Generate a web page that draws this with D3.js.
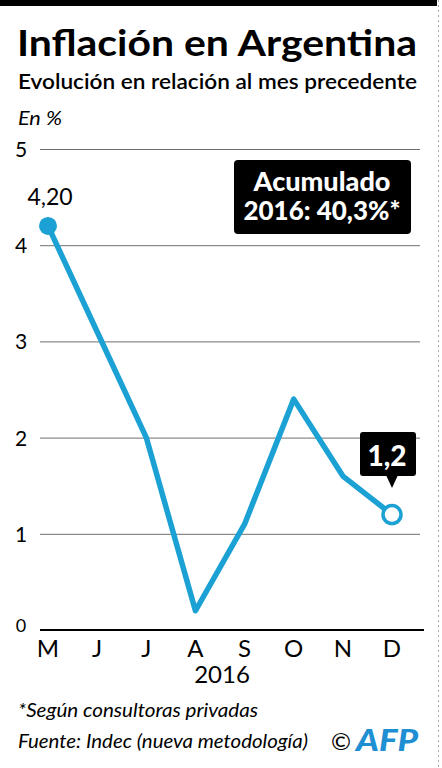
<!DOCTYPE html>
<html lang="es">
  <head>
    <meta charset="utf-8">
    <title>Inflación en Argentina</title>
    <script src="https://d3js.org/d3.v7.min.js"></script>
    <style>
      body { margin: 0; background: #fff; }
      svg text { font-family: Lato, "Open Sans", sans-serif; }
    </style>
  </head>
  <body>
    <div id="chart"></div>
    <script>
      var months = ["M", "J", "J2", "A", "S", "O", "N", "D"];
      var monthLabels = ["M", "J", "J", "A", "S", "O", "N", "D"];
      var inflation = [4.2, 3.1, 2.0, 0.2, 1.1, 2.4, 1.6, 1.2];
      var yTicks = [0, 1, 2, 3, 4, 5];

      var W = 442, H = 768;
      var blue = "#1ba1d3";

      var svg = d3.select("#chart").append("svg")
        .attr("width", W).attr("height", H);

      // top black band and dotted right edge
      svg.append("rect").attr("x", 0).attr("y", 0).attr("width", 437).attr("height", 6).attr("fill", "#000");
      svg.append("line").attr("x1", 438.5).attr("x2", 438.5).attr("y1", 0).attr("y2", H)
        .attr("stroke", "#aaa").attr("stroke-dasharray", "2,3");

      // titles
      svg.append("text").attr("x", 17).attr("y", 56)
        .style("font-size", "37px").style("font-weight", "bold")
        .attr("textLength", 400).attr("lengthAdjust", "spacingAndGlyphs")
        .text("Inflación en Argentina");
      svg.append("text").attr("x", 18).attr("y", 89)
        .style("font-size", "21px").style("font-weight", "600")
        .attr("textLength", 399).attr("lengthAdjust", "spacingAndGlyphs")
        .text("Evolución en relación al mes precedente");
      svg.append("text").attr("x", 18).attr("y", 125)
        .style("font-size", "20px").style("font-style", "italic")
        .attr("textLength", 44).attr("lengthAdjust", "spacingAndGlyphs")
        .text("En %");

      var x = d3.scalePoint().domain(months).range([48, 392]);
      var y = d3.scaleLinear().domain([0, 5]).range([630, 149]);

      // grid lines
      svg.append("g").selectAll("line").data(yTicks.filter(function (d) { return d > 0; }))
        .join("line")
        .attr("x1", 40).attr("x2", 420)
        .attr("y1", function (d) { return y(d) + 0.5; }).attr("y2", function (d) { return y(d) + 0.5; })
        .attr("stroke", "#6f6f6f").attr("stroke-width", 1);

      svg.append("line").attr("x1", 40).attr("x2", 424).attr("y1", y(0)).attr("y2", y(0))
        .attr("stroke", "#000").attr("stroke-width", 2.2);

      // y labels
      svg.append("g").selectAll("text").data(yTicks).join("text")
        .attr("x", 21).attr("text-anchor", "middle")
        .attr("y", function (d) { return d === 0 ? y(d) + 2 : y(d) + 8; })
        .style("font-size", function (d) { return d === 0 ? "18px" : "21px"; })
        .text(function (d) { return d; });

      // x labels
      svg.append("g").selectAll("text").data(months).join("text")
        .attr("x", function (d) { return x(d); }).attr("y", 657)
        .attr("text-anchor", "middle").style("font-size", "24px")
        .text(function (d, i) { return monthLabels[i]; });
      svg.append("text").attr("x", 222).attr("y", 683).attr("text-anchor", "middle")
        .style("font-size", "24px").text("2016");

      // line
      var line = d3.line()
        .x(function (d, i) { return x(months[i]); })
        .y(function (d) { return y(d); });
      svg.append("path").datum(inflation).attr("d", line)
        .attr("fill", "none").attr("stroke", blue).attr("stroke-width", 5.5)
        .attr("stroke-linejoin", "round");

      // first point
      svg.append("circle").attr("cx", x(months[0])).attr("cy", y(inflation[0])).attr("r", 9)
        .attr("fill", blue);
      svg.append("text").attr("x", x(months[0]) + 2).attr("y", 205).attr("text-anchor", "middle")
        .style("font-size", "23px").text("4,20");

      // last point
      var last = inflation.length - 1;
      var lx = x(months[last]), ly = y(inflation[last]);
      svg.append("circle").attr("cx", lx).attr("cy", ly).attr("r", 9)
        .attr("fill", "#fff").attr("stroke", blue).attr("stroke-width", 3.5);

      // 1,2 callout
      svg.append("rect").attr("x", 360).attr("y", 432).attr("width", 56).attr("height", 44).attr("rx", 3)
        .attr("fill", "#000");
      svg.append("path").attr("d", "M" + (lx - 6) + ",475L" + lx + ",488L" + (lx + 6) + ",475Z").attr("fill", "#000");
      svg.append("text").attr("x", 387).attr("y", 466).attr("text-anchor", "middle")
        .attr("fill", "#fff").style("font-size", "28px").style("font-weight", "900")
        .text("1,2");

      // acumulado box
      svg.append("rect").attr("x", 234).attr("y", 160).attr("width", 177).attr("height", 74).attr("rx", 4)
        .attr("fill", "#000");
      svg.append("text").attr("x", 322).attr("y", 191).attr("text-anchor", "middle")
        .attr("fill", "#fff").style("font-size", "26px").style("font-weight", "900")
        .attr("textLength", 137).attr("lengthAdjust", "spacingAndGlyphs")
        .text("Acumulado");
      svg.append("text").attr("x", 322).attr("y", 220).attr("text-anchor", "middle")
        .attr("fill", "#fff").style("font-size", "26px").style("font-weight", "900")
        .attr("textLength", 157).attr("lengthAdjust", "spacingAndGlyphs")
        .text("2016: 40,3%*");

      // footnotes
      svg.append("text").attr("x", 18).attr("y", 717)
        .style("font-size", "20px").style("font-style", "italic")
        .attr("textLength", 240).attr("lengthAdjust", "spacingAndGlyphs")
        .text("*Según consultoras privadas");
      svg.append("text").attr("x", 18).attr("y", 748)
        .style("font-size", "20px").style("font-style", "italic")
        .attr("textLength", 290).attr("lengthAdjust", "spacingAndGlyphs")
        .text("Fuente: Indec (nueva metodología)");

      // AFP mark
      svg.append("text").attr("x", 331).attr("y", 750)
        .style("font-size", "24px").text("©");
      svg.append("text").attr("x", 356).attr("y", 751)
        .attr("fill", "#1e8fd2").style("font-size", "30px").style("font-weight", "900")
        .style("font-style", "italic").attr("textLength", 62).attr("lengthAdjust", "spacingAndGlyphs")
        .text("AFP");
    </script>
  </body>
</html>
